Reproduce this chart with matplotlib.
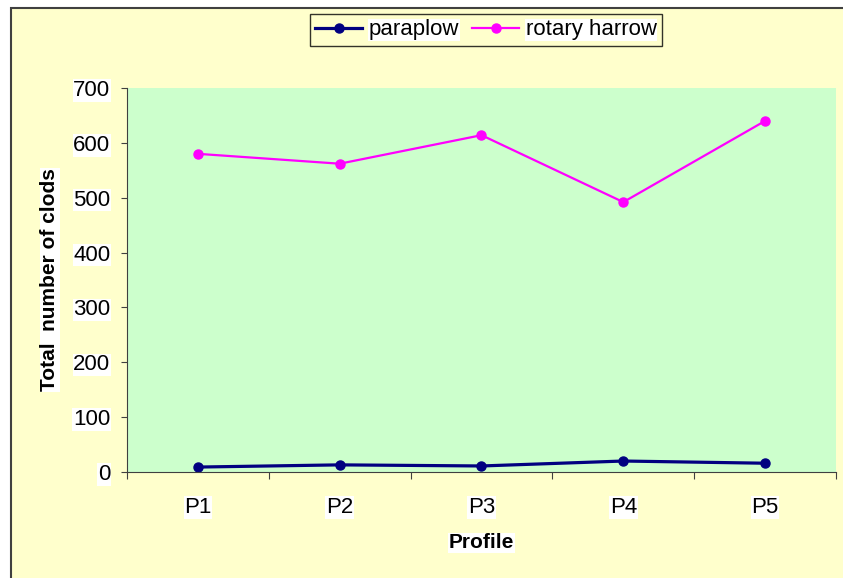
import matplotlib
matplotlib.use("Agg")
import matplotlib.pyplot as plt
from matplotlib.patches import Rectangle

plt.rcParams['font.family'] = ['Liberation Sans', 'DejaVu Sans']

# data
profiles = ['P1', 'P2', 'P3', 'P4', 'P5']
paraplow = [9, 13, 11, 20, 16]
rotary_harrow = [580, 562, 614, 492, 640]

W, H = 843, 578
fig = plt.figure(figsize=(W / 100, H / 100), dpi=100, facecolor='white')

# chart area (yellow, with dark frame on top/left)
fig.patches.append(Rectangle((11 / W, -0.05), 1.1, (H - 8) / H + 0.05,
                             transform=fig.transFigure, facecolor='#FFFFCC',
                             edgecolor='#404040', linewidth=1.5, zorder=-10))

ax = fig.add_axes([127 / W, (H - 472) / H, (836 - 127) / W, (472 - 88) / H])
ax.set_facecolor('#CCFFCC')

x = list(range(len(profiles)))
ax.plot(x, paraplow, '-o', color='#000080', lw=2.3, ms=6.5, label='paraplow')
ax.plot(x, rotary_harrow, '-o', color='#FF00FF', lw=1.6, ms=6.5, label='rotary harrow')

ax.set_ylim(0, 700)
ax.set_yticks(range(0, 701, 100))
ax.set_xlim(-0.5, len(profiles) - 0.5)
ax.set_xticks([i - 0.5 for i in range(len(profiles) + 1)])
ax.set_xticklabels([])
ax.set_xticks(x, minor=True)
ax.set_xticklabels(profiles, minor=True)
ax.tick_params(axis='x', which='major', length=5, direction='out', color='#404040')
ax.tick_params(axis='x', which='minor', length=0, pad=18, labelsize=16)
ax.tick_params(axis='y', length=4, direction='out', color='#404040', labelsize=16, pad=8)

for lbl in ax.get_yticklabels() + ax.get_xticklabels(minor=True):
    lbl.set_bbox(dict(facecolor='white', edgecolor='none', pad=0.5))

for s in ['top', 'right']:
    ax.spines[s].set_visible(False)
for s in ['left', 'bottom']:
    ax.spines[s].set_color('#404040')

ax.set_xlabel('Profile', fontsize=15, fontweight='bold', labelpad=11,
              bbox=dict(facecolor='white', edgecolor='none', pad=0.5))
ax.set_ylabel('Total  number of clods', fontsize=15, fontweight='bold', labelpad=10,
              bbox=dict(facecolor='white', edgecolor='none', pad=0.5))

leg = fig.legend(loc='center', bbox_to_anchor=(486 / W, 1 - 30 / H), ncol=2,
                 frameon=True, fontsize=16, handlelength=2.1, handletextpad=0.3,
                 columnspacing=0.6, borderpad=0.25, borderaxespad=0,
                 fancybox=False)
leg.get_frame().set_facecolor('#FFFFCC')
leg.get_frame().set_edgecolor('black')
for t in leg.get_texts():
    t.set_bbox(dict(facecolor='white', edgecolor='none', pad=0.5))

fig.savefig('out.png', dpi=100, facecolor=fig.get_facecolor())
